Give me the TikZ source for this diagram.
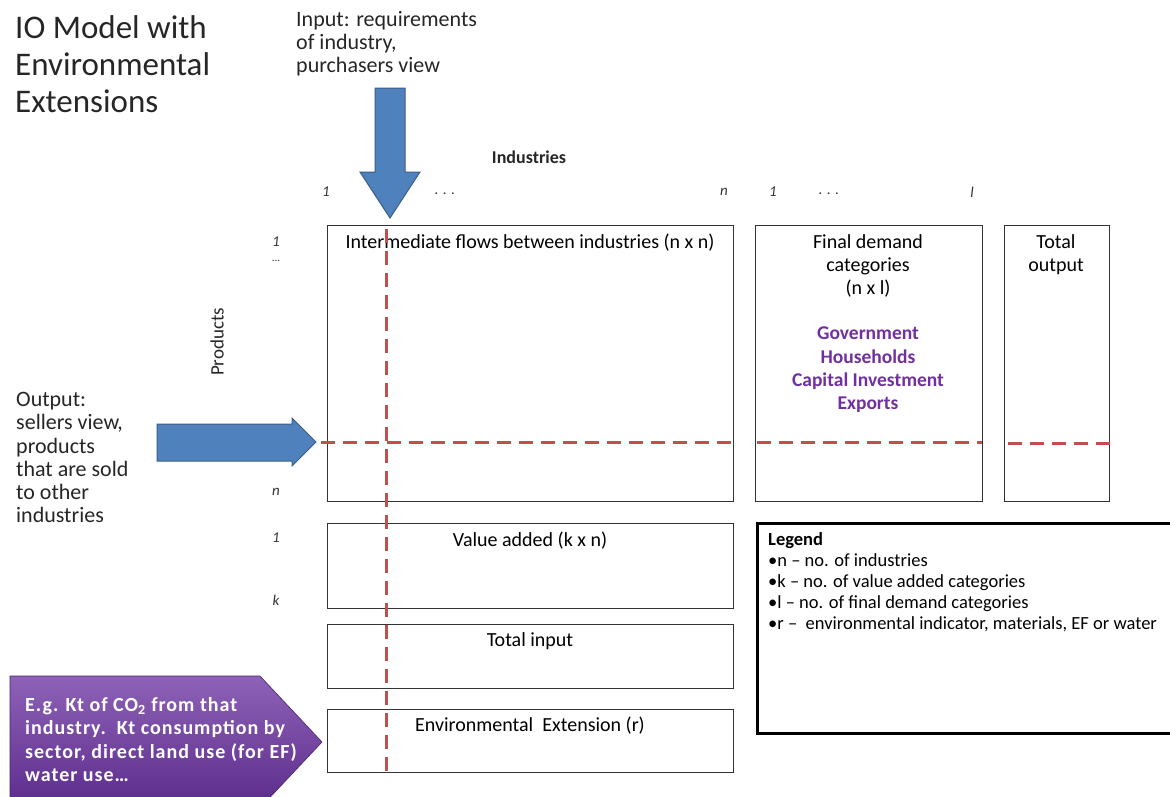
\documentclass[tikz,border=0pt]{standalone}
\usepackage{fontspec}
\setmainfont{Carlito}
\usetikzlibrary{calc}
\definecolor{arrblue}{HTML}{4F81BD}
\definecolor{arrborder}{HTML}{385D8A}
\definecolor{dashred}{HTML}{C0504D}
\definecolor{fdpurple}{HTML}{7030A0}
\definecolor{pentop}{HTML}{8E62B8}
\definecolor{penbot}{HTML}{5B2B8A}
\tikzset{
  blk/.style={draw=black!80, line width=0.9pt},
  lbl/.style={inner sep=0pt, font=\fontsize{20}{23}\selectfont},
  idx/.style={inner sep=0pt, font=\fontsize{15}{16}\selectfont\itshape, text=black!80},
  sidetxt/.style={inner sep=0pt, align=left, anchor=north west, font=\fontsize{22}{23.3}\selectfont, text=black!85},
  redd/.style={dashred, line width=3pt, dash pattern=on 14pt off 8pt},
  bigarrow/.style={fill=arrblue, draw=arrborder, line width=1pt},
}
\begin{document}
\begin{tikzpicture}[x=1pt,y=-1pt]
\useasboundingbox (0,0) rectangle (1170,796);
\clip (0,0) rectangle (1170,796);

% title
\node[inner sep=0pt, align=left, anchor=north west, font=\fontsize{33}{37}\selectfont, text=black!85] (title) at (15,15) {IO Model with\\Environmental\\Extensions};

% input text
\node[sidetxt] (intxt) at (296,11) {Input: requirements\\of industry,\\purchasers view};

% output text
\node[sidetxt] (outtxt) at (16,392) {Output:\\sellers view,\\products\\that are sold\\to other\\industries};

% boxes
\node[blk, minimum width=406pt, minimum height=276pt, anchor=north west, inner sep=0pt] (inter) at (327,225) {};
\node[blk, minimum width=227pt, minimum height=276pt, anchor=north west, inner sep=0pt] (fd) at (755,225) {};
\node[blk, minimum width=105pt, minimum height=276pt, anchor=north west, inner sep=0pt] (tout) at (1004,225) {};
\node[blk, minimum width=406pt, minimum height=85pt, anchor=north west, inner sep=0pt] (va) at (327,523) {};
\node[blk, minimum width=406pt, minimum height=64pt, anchor=north west, inner sep=0pt] (tin) at (327,624) {};
\node[blk, minimum width=406pt, minimum height=63pt, anchor=north west, inner sep=0pt] (env) at (327,709) {};
\node[draw=black, line width=3pt, minimum width=430pt, minimum height=210pt, anchor=north west, inner sep=0pt] (leg) at (756,522) {};

% box texts
\node[lbl, anchor=north] (intertxt) at (530,234) {Intermediate flows between industries (n x n)};
\node[lbl, anchor=north, align=center] (fdtxt) at (868,234) {Final demand\\categories\\(n x l)};
\node[lbl, anchor=north, align=center, font=\fontsize{19.5}{23.2}\selectfont\bfseries, text=fdpurple] (fdcat) at (868,327) {Government\\Households\\Capital Investment\\Exports};
\node[lbl, anchor=north, align=center] (touttxt) at (1056,234) {Total\\output};
\node[lbl, anchor=north] (vatxt) at (530,532) {Value added (k x n)};
\node[lbl, anchor=north] (tintxt) at (530,632) {Total input};
\node[lbl, anchor=north] (envtxt) at (530,717) {Environmental\ \ Extension (r)};

% legend text
\node[inner sep=0pt, anchor=north west, align=left, font=\fontsize{18.5}{21}\selectfont] (legtxt) at (768,532)
  {\textbf{Legend}\\•n – no. of industries\\•k – no. of value added categories\\•l – no. of final demand categories\\•r –\ \ environmental indicator, materials, EF or water};

% headings
\node[inner sep=0pt, font=\fontsize{18}{20}\selectfont\bfseries, text=black!85] (indh) at (529,157) {Industries};
\node[inner sep=0pt, rotate=90, font=\fontsize{19}{20}\selectfont, text=black!85] (prodh) at (217,342) {Products};

% index labels
\node[idx] (c1) at (326,192) {1};
\node[idx] (cd) at (445,194) {. . .};
\node[idx] (cn) at (724,192) {n};
\node[idx] (c1b) at (773,192) {1};
\node[idx] (cdb) at (829,194) {. . .};
\node[idx] (cl) at (972,192) {l};
\node[idx] (r1) at (276,242) {1};
\node[idx, font=\fontsize{11}{12}\selectfont] (rd) at (276,261) {...};
\node[idx] (rn) at (276,492) {n};
\node[idx] (r1b) at (276,538) {1};
\node[idx] (rk) at (276,600) {k};

% dashed red lines
\coordinate (vtop) at (386,229);
\coordinate (vbot) at (386,776);
\draw[redd] (vtop) -- (vbot);
\coordinate (h1a) at (321,442);
\coordinate (h1b) at (733,442);
\coordinate (h2a) at (757,442);
\coordinate (h2b) at (982,442);
\coordinate (h3a) at (1008,443);
\coordinate (h3b) at (1111,443);
\draw[redd] (h1a) -- (h1b);
\draw[redd] (h2a) -- (h2b);
\draw[redd] (h3a) -- (h3b);

% down arrow
\draw[bigarrow] (375,88) -- (405,88) -- (405,172) -- (420,172) -- (390,218) -- (360,172) -- (375,172) -- cycle;
% right arrow
\draw[bigarrow] (157,424) -- (292,424) -- (292,418) -- (316,442) -- (292,466) -- (292,461) -- (157,461) -- cycle;

% purple pentagon
\shade[top color=pentop, bottom color=penbot, draw=penbot!80!black, line width=0.6pt]
  (10,676) -- (260,676) -- (322,742) -- (260,808) -- (10,808) -- cycle;
\node[inner sep=0pt, anchor=north west, align=left, text=white, font=\fontsize{20}{23.5}\selectfont\bfseries\addfontfeatures{LetterSpace=5}] (pentxt) at (25,697)
  {E.g. Kt of CO\textsubscript{2} from that\\industry.\ \ Kt consumption by\\sector, direct land use (for EF)\\water use…};
\end{tikzpicture}
\end{document}
